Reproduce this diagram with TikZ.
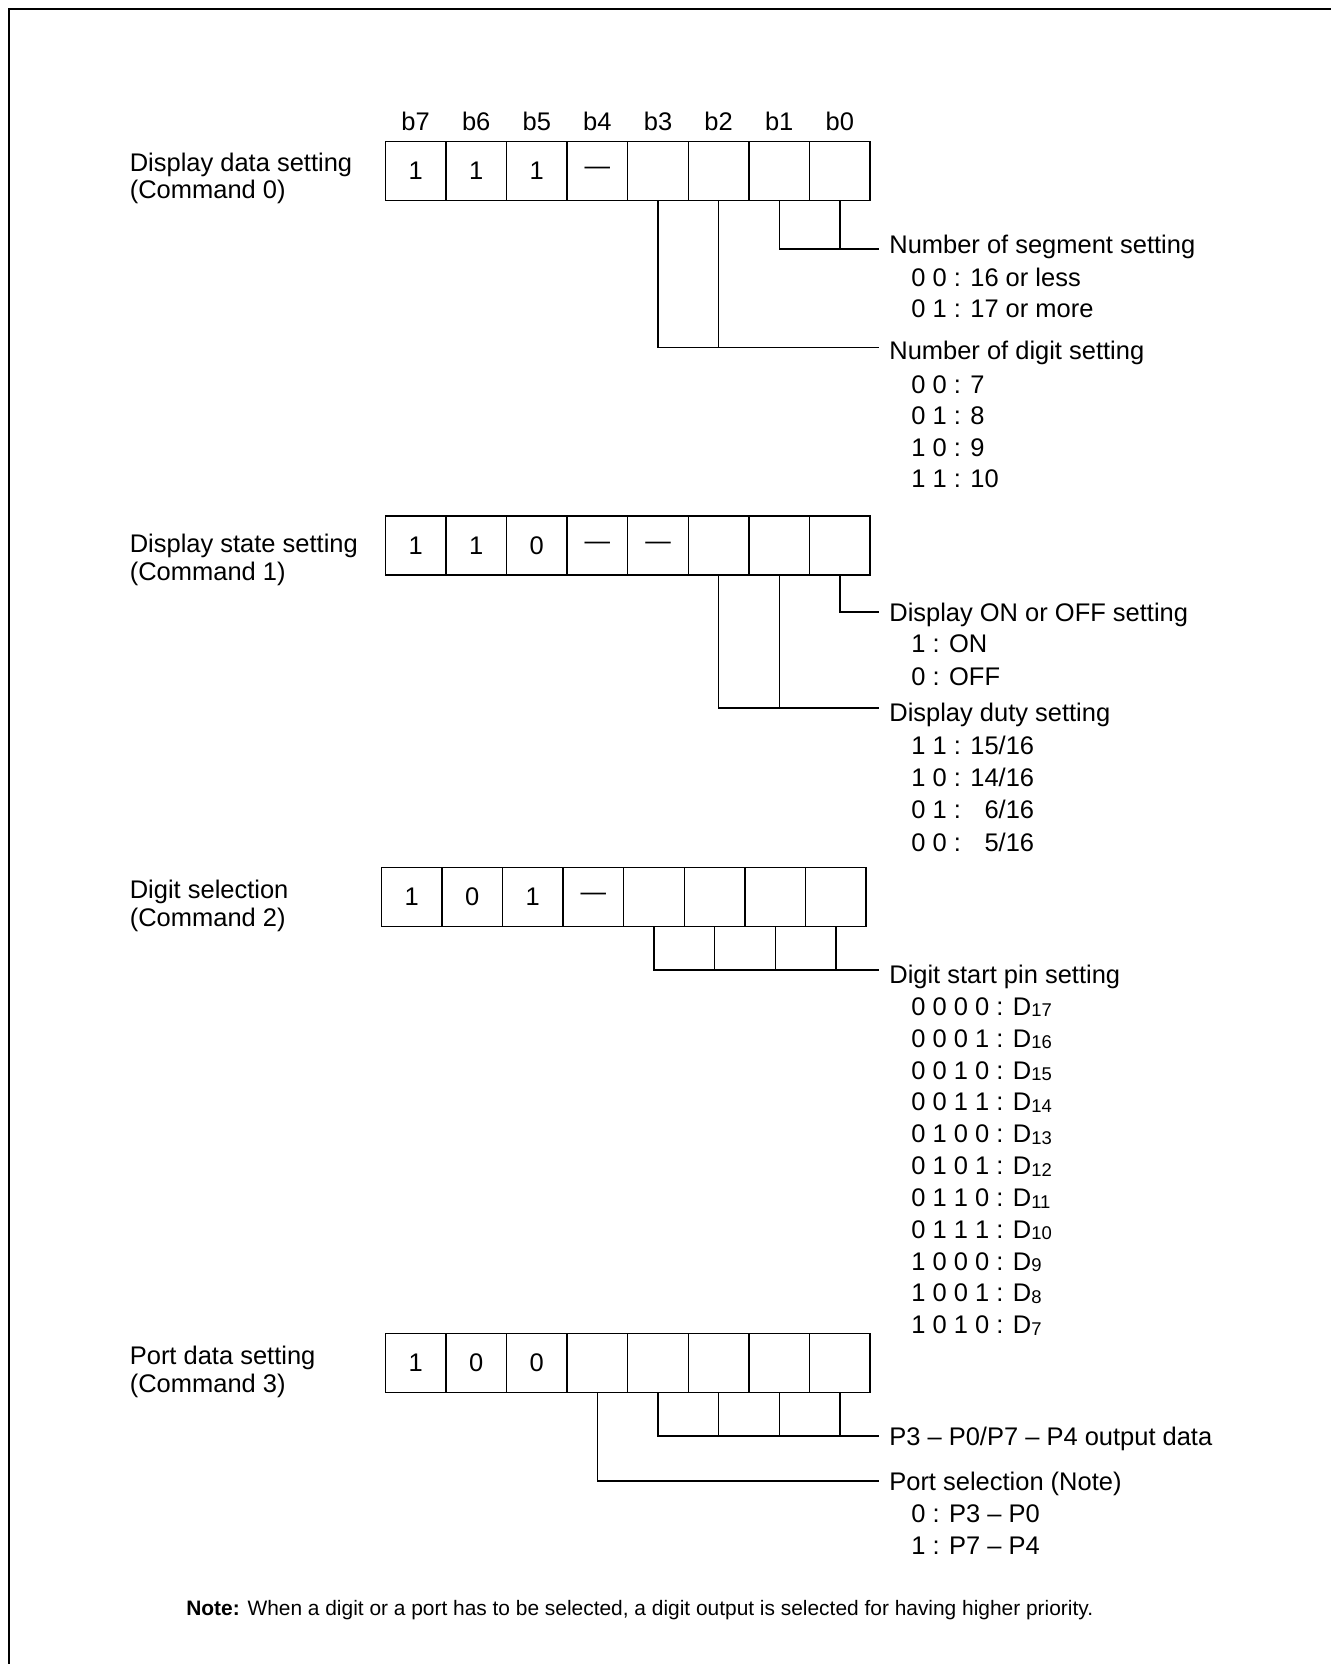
\documentclass[tikz,border=0pt]{standalone}
\usepackage{fontspec}
\setmainfont{Liberation Sans}
\usetikzlibrary{positioning}

% petit indice pour les broches D
\newcommand{\dsub}[1]{D\raisebox{-0.12ex}{\fontsize{10.5}{12}\selectfont #1}}

\tikzset{
  fieldcell/.style={draw, line width=0.8pt, minimum width=1.212cm, minimum height=1.18cm,
    inner sep=0pt, font=\fontsize{14.5}{16}\selectfont},
  bitname/.style={inner sep=0pt, font=\fontsize{14.5}{16}\selectfont},
  cmdname/.style={anchor=north west, align=left, inner sep=0pt, font=\fontsize{14.5}{15.6}\selectfont},
  fieldtitle/.style={anchor=west, inner xsep=0.2cm, inner ysep=0pt, text height=10.4pt,
    text depth=0pt, font=\fontsize{14.5}{16}\selectfont},
  fieldvalue/.style={anchor=west, inner sep=0pt, text height=10.4pt, text depth=0pt,
    font=\fontsize{14.5}{16}\selectfont},
  wire/.style={line width=0.8pt},
}

\begin{document}
\begin{tikzpicture}[x=0.02cm, y=-0.02cm]
        \useasboundingbox (0,0) rectangle (1331,1664);
        % Cadre (haut et gauche)
        \draw[line width=1.6pt] (1331,9) -- (9,9) -- (9,1664);
        % Numeros de bits
        \foreach \b [count=\i from 0] in {7,...,0}
          \node[bitname] (bit\b) at ({415.6+60.6*\i},121) {b\b};

        % Commande 0
        \node[cmdname] (cmd0) at (129.5,152.5) {Display data setting\\(Command 0)};
        \foreach \b/\v in {7/1,6/1,5/1,4/\textemdash,3/{},2/{},1/{},0/{}}
          \node[fieldcell] (c0b\b) at ({415.6+60.6*(7-\b)},171) {\v};
        \node[fieldtitle] (seg) at (879,244) {Number of segment setting};
        \node[fieldvalue] (seg0) at (911,277) {0 0 : 16 or less};
        \node[fieldvalue] (seg1) at (911,308) {0 1 : 17 or more};
        \coordinate (segend) at ([yshift=-0.1cm]seg.west);
        \draw[wire] (c0b1.south) |- (segend);
        \draw[wire] (c0b0.south) -- (c0b0.south |- segend);
        \node[fieldtitle] (dig) at (879,350) {Number of digit setting};
        \foreach \t [count=\k from 0] in {0 0 : 7,0 1 : 8,1 0 : 9,1 1 : 10}
          \node[fieldvalue] (dig\k) at (911,{384+31.5*\k}) {\t};
        \coordinate (digend) at ([yshift=0.05cm]dig.west);
        \draw[wire] (c0b3.south) |- (digend);
        \draw[wire] (c0b2.south) -- (c0b2.south |- digend);

        % Commande 1
        \node[cmdname] (cmd1) at (129.5,534) {Display state setting\\(Command 1)};
        \foreach \b/\v in {7/1,6/1,5/0,4/\textemdash,3/\textemdash,2/{},1/{},0/{}}
          \node[fieldcell] (c1b\b) at ({415.6+60.6*(7-\b)},545.5) {\v};
        \node[fieldtitle] (onoff) at (879,612) {Display ON or OFF setting};
        \node[fieldvalue] (onoff0) at (911,643) {1 : ON};
        \node[fieldvalue] (onoff1) at (911,676) {0 : OFF};
        \draw[wire] (c1b0.south) |- (onoff.west);
        \node[fieldtitle] (duty) at (879,712) {Display duty setting};
        \foreach \t [count=\k from 0] in {1 1 : 15/16,1 0 : 14/16,0 1 : \phantom{1}6/16,0 0 : \phantom{1}5/16}
          \node[fieldvalue] (duty\k) at (911,{745+32.3*\k}) {\t};
        \coordinate (dutyend) at ([yshift=0.08cm]duty.west);
        \draw[wire] (c1b2.south) |- (dutyend);
        \draw[wire] (c1b1.south) -- (c1b1.south |- dutyend);

        % Commande 2
        \node[cmdname] (cmd2) at (129.5,880) {Digit selection\\(Command 2)};
        \foreach \b/\v in {7/1,6/0,5/1,4/\textemdash,3/{},2/{},1/{},0/{}}
          \node[fieldcell] (c2b\b) at ({411.6+60.6*(7-\b)},897) {\v};
        \node[fieldtitle] (pin) at (879,974) {Digit start pin setting};
        \foreach \c/\d [count=\k from 0] in {0 0 0 0/17,0 0 0 1/16,0 0 1 0/15,0 0 1 1/14,
            0 1 0 0/13,0 1 0 1/12,0 1 1 0/11,0 1 1 1/10,1 0 0 0/9,1 0 0 1/8,1 0 1 0/7}
          \node[fieldvalue] (pin\k) at (911,{1006.2+31.84*\k}) {\c{} : \dsub{\d}};
        \coordinate (pinend) at ([yshift=0.08cm]pin.west);
        \draw[wire] (c2b3.south) |- (pinend);
        \foreach \b in {2,1,0}
          \draw[wire] (c2b\b.south) -- (c2b\b.south |- pinend);

        % Commande 3
        \node[cmdname] (cmd3) at (129.5,1346) {Port data setting\\(Command 3)};
        \foreach \b/\v in {7/1,6/0,5/0,4/{},3/{},2/{},1/{},0/{}}
          \node[fieldcell] (c3b\b) at ({415.6+60.6*(7-\b)},1363) {\v};
        \node[fieldtitle] (outd) at (879,1436) {P3 -- P0/P7 -- P4 output data};
        \draw[wire] (c3b3.south) |- (outd.west);
        \foreach \b in {2,1,0}
          \draw[wire] (c3b\b.south) -- (c3b\b.south |- outd.west);
        \node[fieldtitle] (port) at (879,1481) {Port selection (Note)};
        \node[fieldvalue] (port0) at (911,1513) {0 : P3 -- P0};
        \node[fieldvalue] (port1) at (911,1545) {1 : P7 -- P4};
        \draw[wire] (c3b4.south) |- (port.west);

        % Remarque
        \node[anchor=west, inner sep=0pt, text height=8.5pt, text depth=0pt,
          font=\fontsize{11.9}{14}\selectfont] (note) at (186,1608)
          {\textbf{Note:} When a digit or a port has to be selected, a digit output is selected for having higher priority.};
    \end{tikzpicture}
\end{document}
